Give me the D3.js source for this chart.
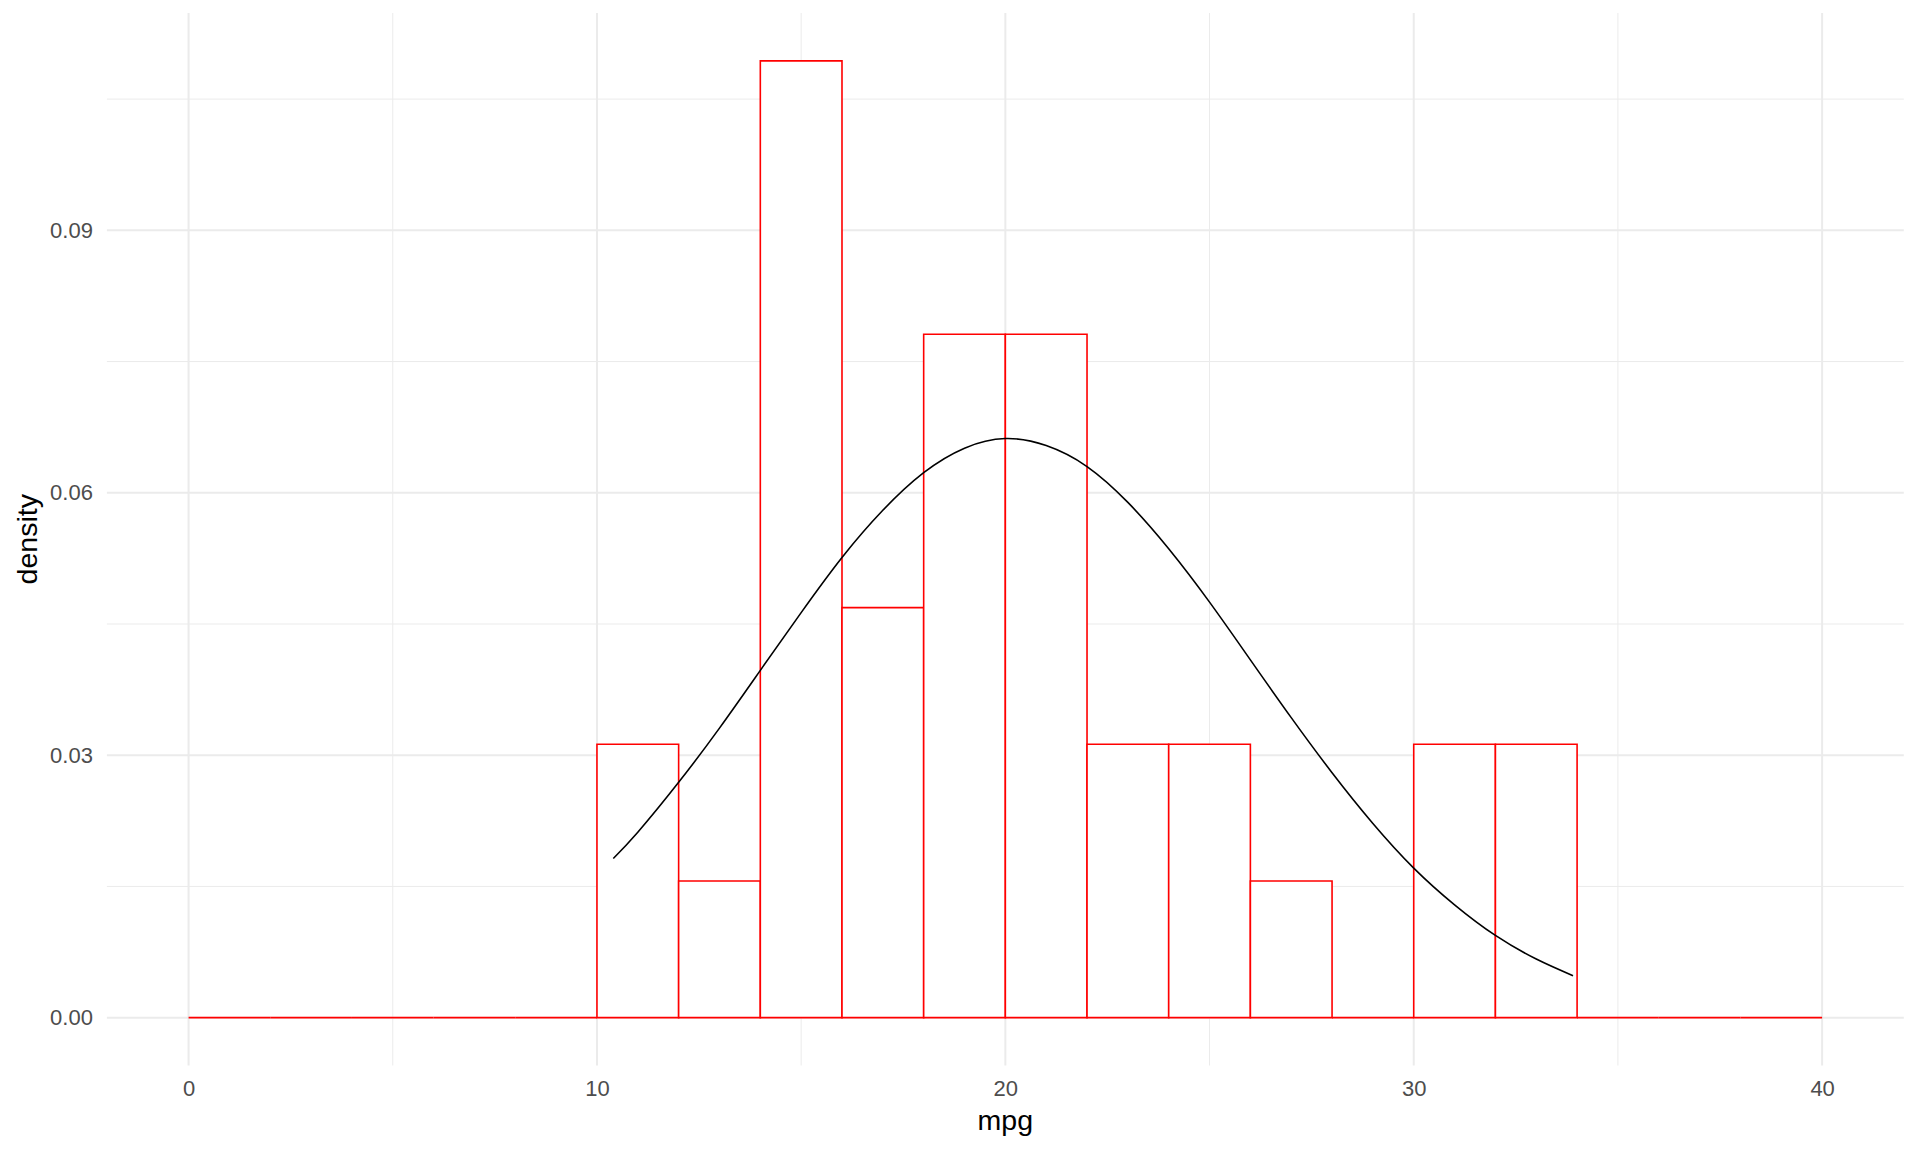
<!DOCTYPE html>
<html>
<head>
<meta charset="utf-8">
<script src="https://cdn.jsdelivr.net/npm/d3@7"></script>
<style>
	body { margin: 0; background: #fff; }
	text { font-family: "Liberation Sans", Arial, sans-serif; }
</style>
</head>
<body>
<svg class="chart"></svg>
<script>
/* Histogram of mpg (density) with a normal curve on top */

// bin edges, width 2
var binStarts = [0, 2, 4, 6, 8, 10, 12, 14, 16, 18, 20, 22, 24, 26, 28, 30, 32, 34, 36, 38];
var binDensity = [0, 0, 0, 0, 0, 0.03125, 0.015625, 0.109375, 0.046875, 0.078125,
	0.078125, 0.03125, 0.03125, 0.015625, 0, 0.03125, 0.03125, 0, 0, 0];

// normal curve
var curveX = [10.4, 11, 12, 13, 14, 15, 16, 17, 18, 19, 20, 21, 22, 23, 24, 25, 26, 27, 28, 29, 30, 31, 32, 33, 33.9];
var curveY = [0.0182, 0.0212, 0.0269, 0.0331, 0.0397, 0.0463, 0.0526, 0.0580, 0.0623, 0.0651, 0.0662,
	0.0654, 0.0630, 0.0589, 0.0536, 0.0475, 0.0409, 0.0343, 0.0280, 0.0222, 0.0171, 0.0129, 0.0094, 0.0067, 0.0048];

var xMajor = [0, 10, 20, 30, 40];
var xMinor = [5, 15, 25, 35];
var yMajor = [0, 0.03, 0.06, 0.09];
var yMinor = [0.015, 0.045, 0.075, 0.105];

function drawChart() {
	var W = 1920, H = 1152;
	var panel = {left: 106.9, right: 1903.8, top: 13, bottom: 1065.5};
	var binWidth = 2;

	var x = d3.scaleLinear()
		.domain([-2, 42])
		.range([panel.left, panel.right]);

	var y = d3.scaleLinear()
		.domain([-0.00546875, 0.11484375])
		.range([panel.bottom, panel.top]);

	var svg = d3.select(".chart")
		.attr("width", W)
		.attr("height", H);

	// grid
	var grid = svg.append("g").attr("stroke", "#EBEBEB");
	grid.selectAll(".ymin").data(yMinor).enter().append("line")
		.attr("x1", panel.left).attr("x2", panel.right)
		.attr("y1", function(d) { return y(d); }).attr("y2", function(d) { return y(d); })
		.attr("stroke-width", 1);
	grid.selectAll(".xmin").data(xMinor).enter().append("line")
		.attr("y1", panel.top).attr("y2", panel.bottom)
		.attr("x1", function(d) { return x(d); }).attr("x2", function(d) { return x(d); })
		.attr("stroke-width", 1);
	grid.selectAll(".ymaj").data(yMajor).enter().append("line")
		.attr("x1", panel.left).attr("x2", panel.right)
		.attr("y1", function(d) { return y(d); }).attr("y2", function(d) { return y(d); })
		.attr("stroke-width", 2);
	grid.selectAll(".xmaj").data(xMajor).enter().append("line")
		.attr("y1", panel.top).attr("y2", panel.bottom)
		.attr("x1", function(d) { return x(d); }).attr("x2", function(d) { return x(d); })
		.attr("stroke-width", 2);

	// bars as closed paths so empty bins still show their red outline
	var bins = binStarts.map(function(s, i) { return {x0: s, x1: s + binWidth, value: binDensity[i]}; });
	svg.selectAll(".bar")
		.data(bins)
	  .enter().append("path")
		.attr("class", "bar")
		.attr("d", function(d) {
			var a = x(d.x0), b = x(d.x1), t = y(d.value), z = y(0);
			return "M" + a + "," + z + "L" + a + "," + t + "L" + b + "," + t + "L" + b + "," + z + "Z";
		})
		.attr("fill", "#fff")
		.attr("stroke", "#FF0000")
		.attr("stroke-width", 1.6);

	// normal curve
	var pts = curveX.map(function(v, i) { return [v, curveY[i]]; });
	var line = d3.line()
		.x(function(d) { return x(d[0]); })
		.y(function(d) { return y(d[1]); })
		.curve(d3.curveNatural);
	svg.append("path")
		.datum(pts)
		.attr("d", line)
		.attr("fill", "none")
		.attr("stroke", "#000")
		.attr("stroke-width", 1.6);

	// axes (labels only)
	var xAxis = d3.axisBottom(x)
		.tickValues(xMajor)
		.tickSize(0)
		.tickPadding(15)
		.tickFormat(d3.format("d"));
	var yAxis = d3.axisLeft(y)
		.tickValues(yMajor)
		.tickSize(0)
		.tickPadding(14)
		.tickFormat(d3.format(".2f"));

	var gx = svg.append("g")
		.attr("transform", "translate(0," + panel.bottom + ")")
		.call(xAxis);
	var gy = svg.append("g")
		.attr("transform", "translate(" + panel.left + ",0)")
		.call(yAxis);
	[gx, gy].forEach(function(g) {
		g.select(".domain").remove();
		g.selectAll("text")
			.attr("fill", "#4D4D4D")
			.style("font-size", "22px")
			.style("font-family", "'Liberation Sans', Arial, sans-serif");
	});

	svg.append("text")
		.attr("x", (panel.left + panel.right) / 2)
		.attr("y", 1130)
		.attr("text-anchor", "middle")
		.style("font-size", "28.5px")
		.text("mpg");

	svg.append("text")
		.attr("transform", "translate(37," + ((panel.top + panel.bottom) / 2) + ") rotate(-90)")
		.attr("text-anchor", "middle")
		.style("font-size", "28.5px")
		.text("density");
}

drawChart();
</script>
</body>
</html>
